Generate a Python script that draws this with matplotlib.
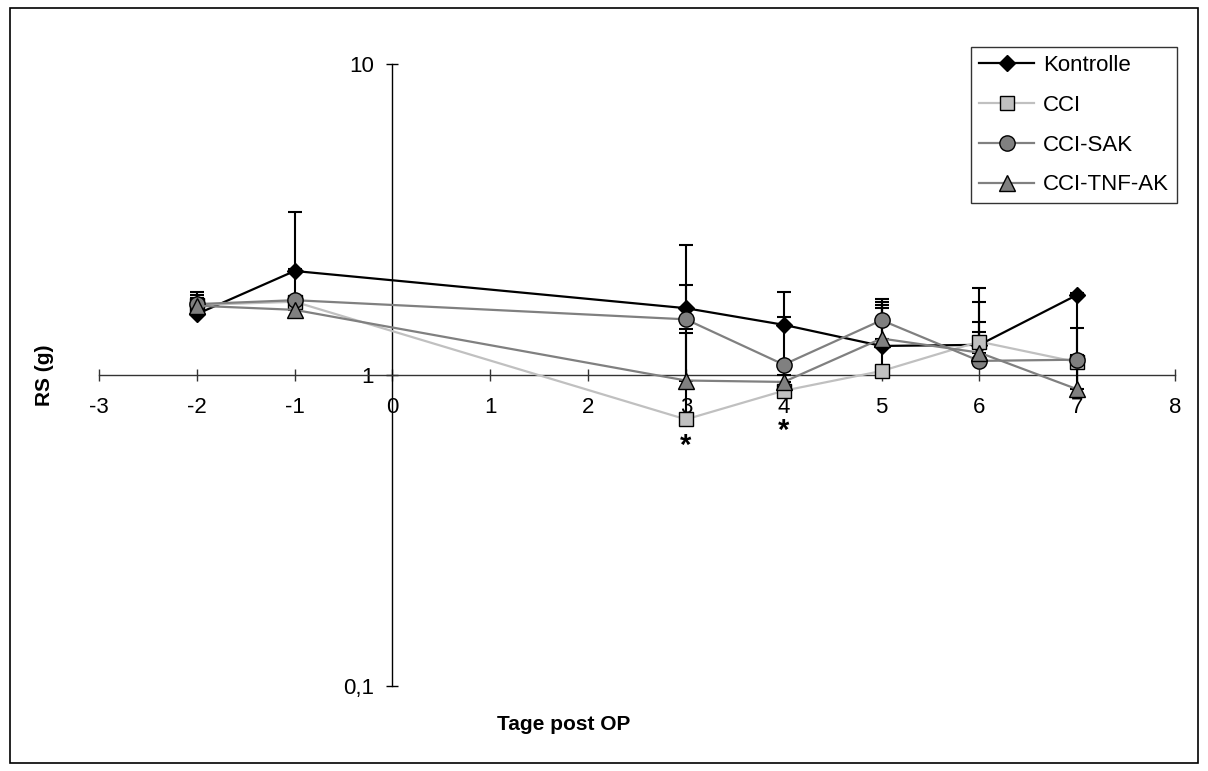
import matplotlib.pyplot as plt
import numpy as np
from matplotlib.patches import Rectangle
from matplotlib.ticker import FixedLocator, FixedFormatter, NullLocator

plt.rcParams['font.family'] = ['Liberation Sans', 'DejaVu Sans']
plt.rcParams['axes.unicode_minus'] = False

days = [-2, -1, 3, 4, 5, 6, 7]

kontrolle = [1.57, 2.16, 1.64, 1.45, 1.24, 1.25, 1.81]
kontrolle_top = [1.85, 3.34, 2.62, 1.85, 1.75, 1.90, 1.84]

cci = [1.68, 1.72, 0.72, 0.89, 1.03, 1.28, 1.10]
cci_top = [1.77, 1.76, 1.36, 1.00, 1.64, 1.72, 1.42]

cci_sak = [1.69, 1.74, 1.51, 1.08, 1.50, 1.11, 1.12]
cci_sak_top = [1.81, 2.19, 1.95, 1.54, 1.72, 1.37, 1.16]

cci_tnf = [1.67, 1.62, 0.96, 0.95, 1.31, 1.18, 0.90]
cci_tnf_top = [1.77, 1.70, 1.41, 1.08, 1.68, 1.48, 1.80]

# significance marks (day, position)
stars = [(3, 0.618), (4, 0.69)]

series = [
    ('Kontrolle', kontrolle, kontrolle_top, 'black', 'D', 'black', 8.5),
    ('CCI', cci, cci_top, '#c0c0c0', 's', '#c0c0c0', 10),
    ('CCI-SAK', cci_sak, cci_sak_top, '#808080', 'o', '#808080', 11),
    ('CCI-TNF-AK', cci_tnf, cci_tnf_top, '#808080', '^', '#808080', 11),
]

W, H = 1208, 771
fig = plt.figure(figsize=(W / 100, H / 100), dpi=100)
ax = fig.add_axes([99 / W, 1 - 686 / H, 1076 / W, 622 / H])

handles = []
for name, vals, tops, lc, mk, fc, ms in series:
    vals = np.array(vals)
    err = np.array(tops) - vals
    ax.errorbar(days, vals, yerr=[np.zeros_like(err), err], fmt='none',
                ecolor='black', elinewidth=1.5, capsize=5, capthick=1.5,
                zorder=3)
    h, = ax.plot(days, vals, color=lc, lw=1.6, marker=mk, ms=ms,
                 markerfacecolor=fc, markeredgecolor='black',
                 markeredgewidth=1.0, label=name, zorder=4)
    handles.append(h)

for d, y in stars:
    ax.annotate('*', (d, y), xytext=(0, -4), textcoords='offset points',
                ha='center', va='center', fontsize=21, fontweight='bold')

ax.set_yscale('log')
ax.set_xlim(-3, 8)
ax.set_ylim(0.1, 10)

for side in ('top', 'right'):
    ax.spines[side].set_visible(False)
ax.spines['left'].set_position(('data', 0))
ax.spines['bottom'].set_position(('data', 1))
ax.spines['left'].set_color('black')
ax.spines['bottom'].set_color('#333333')
ax.spines['left'].set_linewidth(1.0)
ax.spines['bottom'].set_linewidth(1.0)
ax.spines['left'].set_zorder(2)
ax.spines['bottom'].set_zorder(2)

ax.set_xticks(range(-3, 9))
ax.yaxis.set_major_locator(FixedLocator([0.1, 1, 10]))
ax.yaxis.set_major_formatter(FixedFormatter(['0,1', '1', '10']))
ax.yaxis.set_minor_locator(NullLocator())
ax.tick_params(axis='x', direction='inout', length=8, width=1.0,
               color='#333333', labelsize=16, pad=12)
ax.tick_params(axis='y', direction='inout', length=9, width=1.0,
               color='black', labelsize=16, pad=9)

ax.patch.set_visible(False)

fig.text(45 / W, 1 - 375 / H, 'RS (g)', rotation=90, ha='center',
         va='center', fontsize=15, fontweight='bold')
fig.text(564 / W, 1 - 724 / H, 'Tage post OP', ha='center', va='center',
         fontsize=15, fontweight='bold')

leg = fig.legend(handles=handles, loc='upper right',
                 bbox_to_anchor=(1177 / W, 1 - 47 / H), fontsize=16,
                 frameon=True, fancybox=False, edgecolor='black',
                 handlelength=2.5, handletextpad=0.4, labelspacing=0.85,
                 borderpad=0.35, borderaxespad=0)
leg.get_frame().set_linewidth(1.0)

fig.add_artist(Rectangle((10 / W, 1 - 763 / H), 1188 / W, 755 / H,
                         transform=fig.transFigure, fill=False,
                         edgecolor='black', lw=1.2))

fig.savefig('out.png', dpi=100)
